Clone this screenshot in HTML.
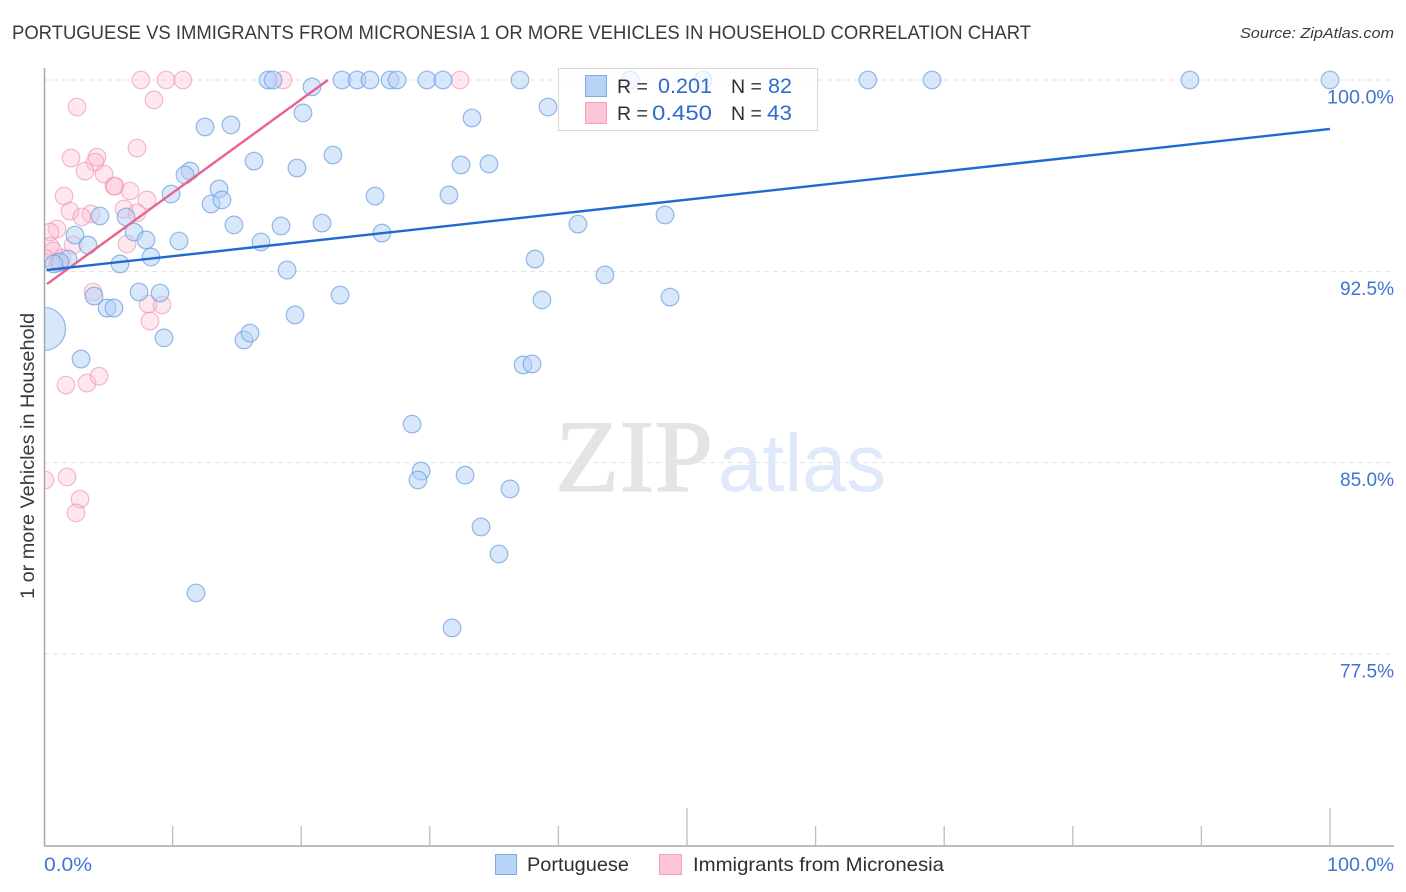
<!DOCTYPE html>
<html lang="en">
<head>
<meta charset="utf-8">
<title>Portuguese vs Immigrants from Micronesia Correlation Chart</title>
<style>
html,body{margin:0;padding:0;background:#fff;width:1406px;height:892px;overflow:hidden}
svg{display:block}
text{font-family:"Liberation Sans",sans-serif}
</style>
</head>
<body>
<svg id="chart" xmlns="http://www.w3.org/2000/svg" width="1406" height="892" viewBox="0 0 1406 892">
  <defs><clipPath id="plot-clip"><rect x="44" y="60" width="1362" height="790"/></clipPath></defs>
  <text x="12" y="39" font-size="19" fill="#3a3a3e" textLength="1019" lengthAdjust="spacingAndGlyphs">PORTUGUESE VS IMMIGRANTS FROM MICRONESIA 1 OR MORE VEHICLES IN HOUSEHOLD CORRELATION CHART</text>
  <text x="1394" y="38" font-size="15" font-style="italic" fill="#3a3a3e" text-anchor="end" textLength="154" lengthAdjust="spacingAndGlyphs">Source: ZipAtlas.com</text>
  <text transform="translate(34,456) rotate(-90)" font-size="19" fill="#3a3a3e" text-anchor="middle" textLength="286" lengthAdjust="spacingAndGlyphs">1 or more Vehicles in Household</text>
  <g id="grid"></g>
  <g>
    <text x="555" y="491" font-size="103" fill="#e4e4e4" stroke="#e4e4e4" stroke-width="1.2" textLength="158" lengthAdjust="spacingAndGlyphs" style="font-family:'Liberation Serif',serif">ZIP</text>
    <text x="718" y="491" font-size="82" fill="#dfe9f9" textLength="168" lengthAdjust="spacingAndGlyphs">atlas</text>
  </g>
  <g id="points" clip-path="url(#plot-clip)"></g>
  <g id="trends"></g>
  <g id="axes"></g>
  <g>
    <rect x="558.5" y="68.5" width="259" height="62" fill="#fff" fill-opacity="0.72" stroke="#d8d8d8"/>
    <rect x="585.5" y="75.5" width="21" height="21" fill="#b8d2f8" stroke="#7eaae6"/>
    <rect x="585.5" y="102.5" width="21" height="21" fill="#fdc6d8" stroke="#f0a0bc"/>
    <text x="617" y="93" font-size="19.5" fill="#2f2f33">R =</text>
    <text x="712" y="93" font-size="21" fill="#2f6bcb" text-anchor="end" textLength="54" lengthAdjust="spacingAndGlyphs">0.201</text>
    <text x="731" y="93" font-size="19.5" fill="#2f2f33">N =</text>
    <text x="792" y="93" font-size="21" fill="#2f6bcb" text-anchor="end" textLength="24" lengthAdjust="spacingAndGlyphs">82</text>
    <text x="617" y="120" font-size="19.5" fill="#2f2f33">R =</text>
    <text x="712" y="120" font-size="21" fill="#2f6bcb" text-anchor="end" textLength="60" lengthAdjust="spacingAndGlyphs">0.450</text>
    <text x="731" y="120" font-size="19.5" fill="#2f2f33">N =</text>
    <text x="792" y="120" font-size="21" fill="#2f6bcb" text-anchor="end" textLength="25" lengthAdjust="spacingAndGlyphs">43</text>
  </g>
  <g>
    <rect x="495.5" y="854.5" width="21" height="20" fill="#b8d2f8" stroke="#7eaae6"/>
    <text x="527" y="871" font-size="19.5" fill="#2f2f33" textLength="102" lengthAdjust="spacingAndGlyphs">Portuguese</text>
    <rect x="659.5" y="854.5" width="22" height="20" fill="#fdc6d8" stroke="#f0a0bc"/>
    <text x="693" y="871" font-size="19.5" fill="#2f2f33" textLength="251" lengthAdjust="spacingAndGlyphs">Immigrants from Micronesia</text>
  </g>
</svg>
<script>
var portugueseX = [17.42,17.81,23.17,24.34,25.35,26.91,27.45,29.78,31.03,37.01,45.57,51.24,64.07,69.05,89.11,100,20.84,39.19,20.14,33.28,12.52,14.54,22.47,16.33,32.43,34.60,19.67,11.35,10.96,13.61,9.88,12.99,13.84,25.74,31.49,4.35,6.38,14.77,18.43,21.62,41.52,48.29,7.00,26.28,2.41,3.42,7.93,10.50,16.87,8.32,1.87,38.18,1.24,0.78,5.91,18.90,43.62,7.39,3.89,9.02,23.02,38.72,48.68,4.90,5.44,19.52,0,9.33,15.55,16.02,2.88,37.25,37.95,28.62,29.32,29.08,32.74,36.24,33.98,35.38,11.82,31.73];
var portugueseY = [100,100,100,100,100,100,100,100,100,100,100,100,100,100,100,100,99.73,98.94,98.71,98.51,98.16,98.24,97.06,96.82,96.67,96.71,96.55,96.43,96.28,95.73,95.53,95.14,95.30,95.45,95.49,94.67,94.63,94.32,94.28,94.39,94.35,94.71,94.04,94.00,93.92,93.53,93.73,93.69,93.65,93.06,92.98,92.98,92.87,92.79,92.79,92.55,92.36,91.69,91.53,91.65,91.57,91.38,91.49,91.06,91.06,90.79,90.24,89.89,89.81,90.08,89.06,88.83,88.87,86.51,84.67,84.32,84.51,83.97,82.48,81.42,79.89,78.52];
var portugueseWeight = [1,1,1,1,1,1,1,1,1,1,1,1,1,1,1,1,1,1,1,1,1,1,1,1,1,1,1,1,1,1,1,1,1,1,1,1,1,1,1,1,1,1,1,1,1,1,1,1,1,1,1,1,1,1,1,1,1,1,1,1,1,1,1,1,1,1,6,1,1,1,1,1,1,1,1,1,1,1,1,1,1,1];
var micronesiaX = [7.54,9.49,10.81,18.59,32.35,8.55,2.57,7.23,2.10,4.12,3.97,3.19,4.67,5.44,5.52,6.69,1.56,8.01,2.02,6.22,3.65,2.95,7.23,1.01,0.47,6.45,2.26,0.47,0.70,0.08,1.40,1.09,3.81,8.09,9.18,8.24,1.71,3.34,4.28,1.79,0.08,2.80,2.49];
var micronesiaY = [100,100,100,100,100,99.22,98.94,97.33,96.94,96.98,96.78,96.43,96.31,95.84,95.84,95.65,95.45,95.30,94.86,94.94,94.75,94.63,94.79,94.16,94.04,93.57,93.53,93.49,93.30,93.02,93.02,92.83,91.69,91.22,91.18,90.55,88.04,88.12,88.39,84.44,84.32,83.57,83.03];
var portugueseTrendX = [0.2,100];
var portugueseTrendY = [92.55,98.08];
var micronesiaTrendX = [0.23,22.08];
var micronesiaTrendY = [92.0,100];
var yTickValues = [100,92.5,85,77.5];
var yTickLabels = ["100.0%","92.5%","85.0%","77.5%"];
var xTickValues = [0,10,20,30,40,50,60,70,80,90,100];
var xMajorTicks = [50,100];
var xEndLabels = ["0.0%","100.0%"];

var SVGNS = "http://www.w3.org/2000/svg";
function xScale(v){ return 44 + v * 12.86; }
function yScale(v){ return 80 + (100 - v) * 25.51; }
function make(tag, attrs, parent){
  var el = document.createElementNS(SVGNS, tag);
  for (var k in attrs) el.setAttribute(k, attrs[k]);
  parent.appendChild(el);
  return el;
}
var grid = document.getElementById("grid");
var axes = document.getElementById("axes");
var points = document.getElementById("points");
var trends = document.getElementById("trends");

yTickValues.forEach(function(v, i){
  var line = make("line", {x1:44, x2:1394, y1:yScale(v), y2:yScale(v), stroke:"#e2e2e2", "stroke-width":1, "stroke-dasharray":"5 4"}, grid);
  
  
  var label = make("text", {x:1394, y:yScale(v) + 23.5, "font-size":19.5, fill:"#3f74d0", "text-anchor":"end", textLength:yTickLabels[i].length === 6 ? 67 : 54, lengthAdjust:"spacingAndGlyphs"}, axes);
  label.textContent = yTickLabels[i];
  
  
});

var yAxis = make("line", {x1:44.5, x2:44.5, y1:68, y2:846, stroke:"#a8a8a8", "stroke-width":1.5}, axes);


var xAxis = make("line", {x1:44, x2:1394, y1:846, y2:846, stroke:"#a8a8a8", "stroke-width":1.5}, axes);



xTickValues.forEach(function(v){
  if (v === 0) return;
  var top = xMajorTicks.indexOf(v) >= 0 ? 808 : 826;
  var tick = make("line", {x1:xScale(v), x2:xScale(v), y1:top, y2:846, stroke:"#bdbdbd", "stroke-width":1.3}, axes);
  
  
});

var xLabelLeft = make("text", {x:xScale(0), y:871, "font-size":19.5, fill:"#3f74d0", textLength:48, lengthAdjust:"spacingAndGlyphs"}, axes);
xLabelLeft.textContent = xEndLabels[0];


var xLabelRight = make("text", {x:1394, y:871, "font-size":19.5, fill:"#3f74d0", "text-anchor":"end", textLength:67, lengthAdjust:"spacingAndGlyphs"}, axes);
xLabelRight.textContent = xEndLabels[1];



micronesiaX.forEach(function(v, i){
  var c = make("circle", {cx:xScale(v), cy:yScale(micronesiaY[i]), r:8.8, fill:"#fbbdd1", "fill-opacity":0.36, stroke:"#ee8fae", "stroke-opacity":0.6, "stroke-width":1.2}, points);
  
  
});
portugueseX.forEach(function(v, i){
  var c = make("circle", {cx:xScale(v), cy:yScale(portugueseY[i]), r:8.8 * Math.sqrt(portugueseWeight[i]), fill:"#b4cff6", "fill-opacity":0.5, stroke:"#6b9fe2", "stroke-opacity":0.72, "stroke-width":1.2}, points);
  
  
});

var pinkLine = make("line", {x1:xScale(micronesiaTrendX[0]), y1:yScale(micronesiaTrendY[0]), x2:xScale(micronesiaTrendX[1]), y2:yScale(micronesiaTrendY[1]), stroke:"#e8638f", "stroke-width":2.4}, trends);


var blueLine = make("line", {x1:xScale(portugueseTrendX[0]), y1:yScale(portugueseTrendY[0]), x2:xScale(portugueseTrendX[1]), y2:yScale(portugueseTrendY[1]), stroke:"#1f6ad0", "stroke-width":2.4}, trends);


</script>
</body>
</html>
